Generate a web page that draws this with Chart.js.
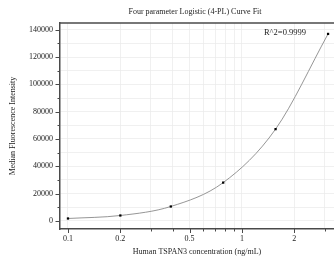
<!DOCTYPE html>
<html>
<head>
<meta charset="utf-8">
<script src="https://cdn.jsdelivr.net/npm/chart.js@4.4.0/dist/chart.umd.min.js"></script>
<style>
  html, body { margin: 0; padding: 0; background: #fff; }
  #wrap { width: 334px; height: 266px; }
</style>
</head>
<body>
<div id="wrap"><canvas id="curve"></canvas></div>
<script>
const concentrations = [0.1, 0.2, 0.39, 0.78, 1.56, 3.125];
const mfi = [1700, 3900, 10500, 28000, 67200, 137000];
const xTicks = [0.1, 0.2, 0.3, 0.4, 0.5, 0.6, 0.7, 0.8, 0.9, 1, 2, 3];
const xLabeled = [0.1, 0.2, 0.5, 1, 2];
const chartTitle = 'Four parameter Logistic (4-PL) Curve Fit';
const rSquared = 'R^2=0.9999';

const serif = '"Liberation Serif", "DejaVu Serif", serif';
const axisColor = '#4a4a4a';

// title over the plot area, tick marks (long for labelled, short for minor), top frame line and R^2 text
const extras = {
  id: 'extras',
  afterDraw(chart) {
    const ctx = chart.ctx;
    const area = chart.chartArea;
    const x = chart.scales.x, y = chart.scales.y;
    ctx.save();
    ctx.strokeStyle = axisColor;
    ctx.lineWidth = 1;
    x.ticks.forEach(t => {
      const px = Math.round(x.getPixelForValue(t.value)) + 0.5;
      const len = xLabeled.includes(t.value) ? 4 : 2.5;
      ctx.beginPath();
      ctx.moveTo(px, area.bottom);
      ctx.lineTo(px, area.bottom + len);
      ctx.stroke();
    });
    y.ticks.forEach(t => {
      const py = Math.round(y.getPixelForValue(t.value)) + 0.5;
      const len = t.value % 20000 === 0 ? 4.5 : 2.5;
      ctx.beginPath();
      ctx.moveTo(area.left, py);
      ctx.lineTo(area.left - len, py);
      ctx.stroke();
    });
    ctx.lineWidth = 1.5;
    ctx.beginPath();
    ctx.moveTo(area.left, area.top);
    ctx.lineTo(area.right, area.top);
    ctx.stroke();
    ctx.fillStyle = '#222';
    ctx.textBaseline = 'middle';
    ctx.font = '8px ' + serif;
    ctx.textAlign = 'center';
    ctx.fillText(chartTitle, (area.left + area.right) / 2 - 2, 11.5);
    ctx.font = '8.5px ' + serif;
    ctx.textAlign = 'right';
    ctx.fillText(rSquared, area.right - 28, area.top + 10);
    ctx.restore();
  }
};

new Chart(document.getElementById('curve'), {
  type: 'line',
  data: {
    datasets: [{
      data: concentrations.map((c, i) => ({ x: c, y: mfi[i] })),
      borderColor: '#8a8a8a',
      borderWidth: 0.9,
      tension: 0.4,
      cubicInterpolationMode: 'monotone',
      pointRadius: 1.6,
      pointStyle: 'rect',
      pointBackgroundColor: '#000',
      pointBorderColor: '#000',
      pointBorderWidth: 0
    }]
  },
  options: {
    responsive: true,
    maintainAspectRatio: false,
    animation: false,
    layout: { autoPadding: false, padding: { top: 23, right: 0, left: 0, bottom: 0 } },
    plugins: {
      legend: { display: false },
      tooltip: { enabled: false },
      title: { display: false }
    },
    scales: {
      x: {
        type: 'logarithmic',
        min: 0.09,
        max: 3.38,
        afterBuildTicks: s => { s.ticks = xTicks.map(v => ({ value: v })); },
        afterFit: s => { s.height = 37; s.paddingRight = 0; s.paddingLeft = 0; },
        border: { display: true, color: axisColor, width: 1.5 },
        grid: { color: '#ececec', lineWidth: 0.8, tickLength: 4, tickColor: 'rgba(0,0,0,0)' },
        ticks: {
          autoSkip: false,
          maxRotation: 0,
          padding: 1,
          color: '#222',
          font: { family: serif, size: 8 },
          callback: v => xLabeled.includes(v) ? String(v) : ''
        },
        title: {
          display: true,
          text: 'Human TSPAN3 concentration (ng/mL)',
          color: '#222',
          font: { family: serif, size: 8 },
          padding: { top: 3, bottom: 9 }
        }
      },
      y: {
        min: -6000,
        max: 145000,
        afterBuildTicks: s => {
          const t = [];
          for (let v = 0; v <= 140000; v += 10000) t.push({ value: v });
          s.ticks = t;
        },
        afterFit: s => { s.width = 60; },
        border: { display: true, color: axisColor, width: 1.5 },
        grid: { color: '#ececec', lineWidth: 0.8, tickLength: 5, tickColor: 'rgba(0,0,0,0)' },
        ticks: {
          autoSkip: false,
          padding: 2,
          color: '#222',
          font: { family: serif, size: 8 },
          callback: v => v % 20000 === 0 ? String(v) : ''
        },
        title: {
          display: true,
          text: 'Median Fluorescence Intensity',
          color: '#222',
          font: { family: serif, size: 8 },
          padding: { top: 8, bottom: 0 }
        }
      }
    }
  },
  plugins: [extras]
});
</script>
</body>
</html>
